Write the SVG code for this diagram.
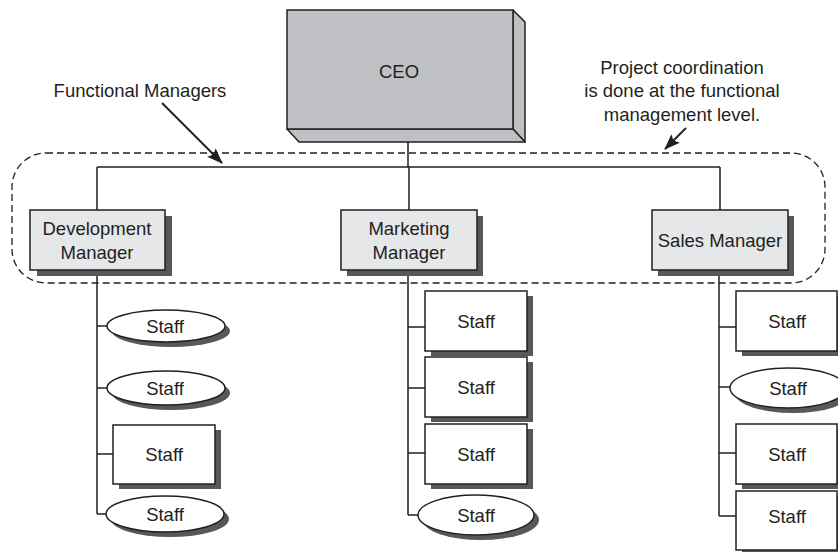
<svg xmlns="http://www.w3.org/2000/svg" width="838" height="552" viewBox="0 0 838 552">
<defs>
<marker id="ah" markerWidth="16" markerHeight="12" refX="15" refY="6" orient="auto" markerUnits="userSpaceOnUse">
<path d="M0,0 L16,6 L0,12 L3,6 Z" fill="#231f20"/>
</marker>
</defs>
<style>
text{font-family:"Liberation Sans",Arial,sans-serif;font-size:18.5px;fill:#231f20;text-anchor:middle}
.ln{stroke:#231f20;stroke-width:1.5;fill:none}
.arr{stroke:#231f20;stroke-width:2;fill:none}
.mgr{fill:#e6e7e8;stroke:#231f20;stroke-width:1.5}
.sh{fill:#58585a}
.st{fill:#fff;stroke:#231f20;stroke-width:1.5}
.ceo{fill:#bfc0c3;stroke:#231f20;stroke-width:1.5;stroke-linejoin:round}
.dash{fill:none;stroke:#231f20;stroke-width:1.3;stroke-dasharray:7 4}
</style>
<rect width="838" height="552" fill="#fff"/>

<g id="functional-group">
<rect class="dash" x="12" y="153" width="813" height="130" rx="34" ry="34"/>
</g>

<g id="connectors">
<path class="ln" d="M408,142 V167 M97,167 H720 M97,167 V210 M409,167 V210 M720,167 V210"/>
<path class="ln" d="M97,270 V514 M97,326 H107 M97,388 H107 M97,454 H113 M97,514 H107"/>
<path class="ln" d="M408,271 V515 M408,327 H425 M408,388 H425 M408,453 H425 M408,515 H418"/>
<path class="ln" d="M719,270 V516 M719,327 H736 M719,387 H730 M719,453 H736 M719,516 H736"/>
<line class="arr" x1="162" y1="103" x2="222" y2="163" marker-end="url(#ah)"/>
<line class="arr" x1="686" y1="128" x2="665" y2="149" marker-end="url(#ah)"/>
</g>

<g id="ceo">
<polygon class="ceo" points="513,10 525,22 525,142 513,129"/>
<polygon class="ceo" points="287,129 513,129 525,142 299,142"/>
<rect class="ceo" x="287" y="10" width="226" height="119"/>
<text x="399" y="78">CEO</text>
</g>

<g id="dev-manager">
<rect class="sh" x="37" y="216" width="135" height="60"/>
<rect class="mgr" x="30" y="210" width="135" height="60"/>
<text x="97" y="235">Development</text>
<text x="97" y="259">Manager</text>
</g>

<g id="marketing-manager">
<rect class="sh" x="347" y="216" width="136" height="60"/>
<rect class="mgr" x="341" y="210" width="136" height="60"/>
<text x="409" y="235">Marketing</text>
<text x="409" y="259">Manager</text>
</g>

<g id="sales-manager">
<rect class="sh" x="658" y="216" width="136" height="60"/>
<rect class="mgr" x="652" y="210" width="136" height="60"/>
<text x="720" y="247">Sales Manager</text>
</g>

<g id="functional-label"><text x="140" y="97">Functional Managers</text></g>
<g id="coordination-label">
<text x="682" y="74">Project coordination</text>
<text x="682" y="97">is done at the functional</text>
<text x="682" y="121">management level.</text>
</g>

<g id="dev-staff-1"><ellipse class="sh" cx="171" cy="331" rx="59" ry="16"/><ellipse class="st" cx="166" cy="326" rx="59" ry="16"/><text x="165" y="333">Staff</text></g>
<g id="dev-staff-2"><ellipse class="sh" cx="171" cy="393" rx="59" ry="17"/><ellipse class="st" cx="166" cy="388" rx="59" ry="17"/><text x="165" y="395">Staff</text></g>
<g id="dev-staff-3"><rect class="sh" x="119" y="430" width="102" height="59"/><rect class="st" x="113" y="425" width="102" height="59"/><text x="164" y="461">Staff</text></g>
<g id="dev-staff-4"><ellipse class="sh" cx="170" cy="519" rx="59" ry="18"/><ellipse class="st" cx="165" cy="514" rx="59" ry="18"/><text x="165" y="521">Staff</text></g>

<g id="mkt-staff-1"><rect class="sh" x="431" y="296" width="102" height="60"/><rect class="st" x="425" y="291" width="102" height="60"/><text x="476" y="328">Staff</text></g>
<g id="mkt-staff-2"><rect class="sh" x="431" y="362" width="102" height="60"/><rect class="st" x="425" y="357" width="102" height="60"/><text x="476" y="394">Staff</text></g>
<g id="mkt-staff-3"><rect class="sh" x="431" y="429" width="102" height="60"/><rect class="st" x="425" y="424" width="102" height="60"/><text x="476" y="461">Staff</text></g>
<g id="mkt-staff-4"><ellipse class="sh" cx="481" cy="520" rx="58" ry="20"/><ellipse class="st" cx="476" cy="515" rx="58" ry="20"/><text x="476" y="522">Staff</text></g>

<g id="sales-staff-1"><rect class="sh" x="742" y="296" width="102" height="60"/><rect class="st" x="736" y="291" width="101" height="60"/><text x="787" y="328">Staff</text></g>
<g id="sales-staff-2"><ellipse class="sh" cx="793" cy="393" rx="58" ry="20"/><ellipse class="st" cx="788" cy="388" rx="58" ry="20"/><text x="788" y="395">Staff</text></g>
<g id="sales-staff-3"><rect class="sh" x="742" y="429" width="102" height="60"/><rect class="st" x="736" y="424" width="101" height="60"/><text x="787" y="461">Staff</text></g>
<g id="sales-staff-4"><rect class="sh" x="742" y="496" width="102" height="60"/><rect class="st" x="736" y="491" width="101" height="59"/><text x="787" y="523">Staff</text></g>
</svg>
